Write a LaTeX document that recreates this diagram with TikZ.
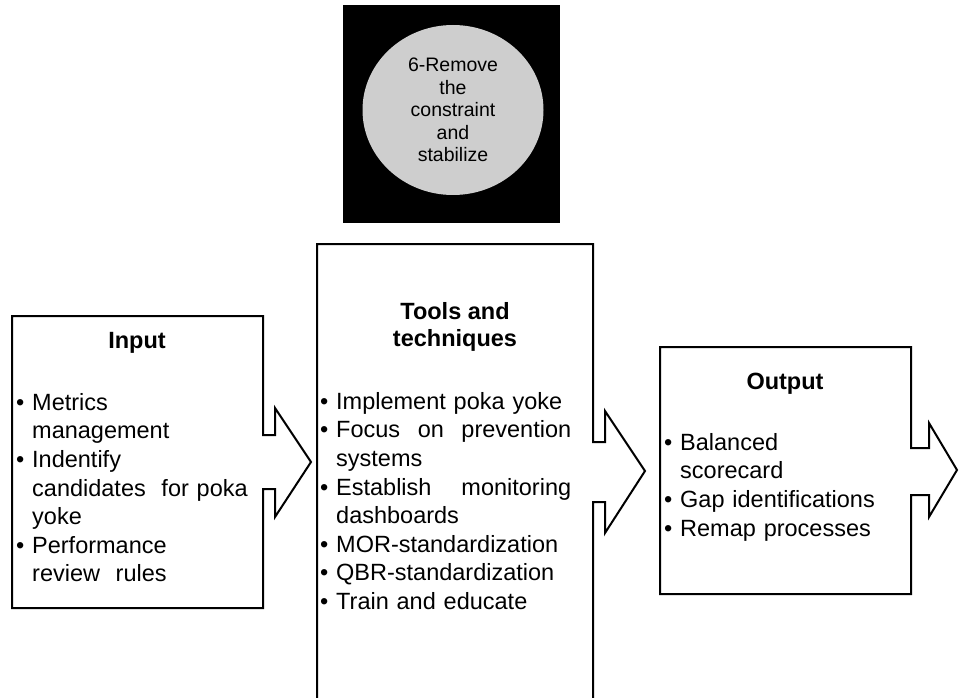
\documentclass[tikz,border=0pt]{standalone}
\usepackage{fontspec}
\setmainfont{Liberation Sans}
\usetikzlibrary{shapes.geometric}
\definecolor{circlegray}{RGB}{206,206,206}
\newcommand{\bul}{\makebox[16pt][l]{\textbullet}}
\newcommand{\ind}{\hspace*{16pt}}
\tikzset{
  boxline/.style={draw=black,line width=2pt,line join=miter},
  boxtext/.style={anchor=north west,inner sep=0pt,align=left,font=\fontsize{23.5}{28.6}\selectfont},
  boxtitle/.style={inner sep=0pt,align=center,font=\bfseries\fontsize{23.5}{27.5}\selectfont},
}
\begin{document}
\begin{tikzpicture}[x=1pt,y=-1pt]

\def\BACKGROUND{black}
\def\CIRCLECOLOR{circlegray}
	\path[use as bounding box,fill=white] (0,0) rectangle (959,698);
	\fill[\BACKGROUND] (343,5) rectangle (560,223);
	\node[ellipse,fill=\CIRCLECOLOR,minimum width=181pt,minimum height=170pt,inner sep=0pt,align=center,
	      font=\fontsize{19.5}{22.5}\selectfont] (constraint) at (453,110)
	      {6-Remove\\the\\constraint\\and\\stabilize};

	\draw[boxline] (12,316) -- (263,316) -- (263,435) -- (275,435) -- (275,408) -- (311,462)
	               -- (275,517) -- (275,489) -- (263,489) -- (263,608) -- (12,608) -- cycle;
	\draw[boxline] (317,700) -- (317,244) -- (593,244) -- (593,442) -- (605,442) -- (605,411)
	               -- (645,471) -- (605,533) -- (605,502) -- (593,502) -- (593,700);
	\draw[boxline] (660,347) -- (911,347) -- (911,448) -- (929,448) -- (929,423) -- (957,470)
	               -- (929,517) -- (929,495) -- (911,495) -- (911,594) -- (660,594) -- cycle;

	\node[boxtitle] (inputtitle) at (137,343) {Input};
	\node[boxtitle] (toolstitle) at (455,327) {Tools and\\techniques};
	\node[boxtitle] (outputtitle) at (785,384) {Output};

	\node[boxtext,text width=235pt] (input) at (16,393)
	  {\bul Metrics\\ \ind management\\ \bul Indentify\\ \ind candidates\ \ for poka\\ \ind yoke\\
	   \bul Performance\\ \ind review\ \ rules};
	\node[boxtext,text width=251pt] (tools) at (320,392)
	  {\bul Implement poka yoke\\ \bul Focus\hfill on\hfill prevention\\ \ind systems\\
	   \bul Establish\hfill monitoring\\ \ind dashboards\\ \bul MOR-standardization\\
	   \bul QBR-standardization\\ \bul Train and educate};
	\node[boxtext,text width=240pt] (output) at (664,433)
	  {\bul Balanced\\ \ind scorecard\\ \bul Gap identifications\\ \bul Remap processes};

\end{tikzpicture}
\end{document}
